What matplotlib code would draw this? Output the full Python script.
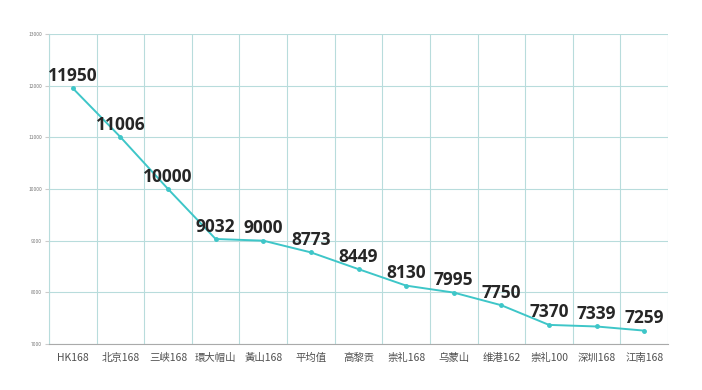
import matplotlib.pyplot as plt
import matplotlib.transforms as mtransforms
import numpy as np

plt.rcParams['font.family'] = ['Noto Sans CJK SC', 'DejaVu Sans']

categorias = ['HK168', '北京168', '三峡168', '環大帽山', '黃山168', '平均值', '高黎贡',
              '崇礼168', '乌蒙山', '维港162', '崇礼100', '深圳168', '江南168']
valores = [11950, 11006, 10000, 9032, 9000, 8773, 8449, 8130, 7995, 7750, 7370, 7339, 7259]
yticks = [7000, 8000, 9000, 10000, 11000, 12000, 13000]

fig = plt.figure(figsize=(7.02, 3.9), dpi=100)
ax = fig.add_axes([49/702, 1-344/390, (668-49)/702, (344-34)/390])

x = np.arange(len(categorias))
ax.plot(x, valores, color='#3ec6c8', lw=1.4, marker='o', ms=2.5, zorder=3)

for xi, v in zip(x, valores):
    ax.annotate(str(v), (xi, v), xytext=(0, 2.5), textcoords='offset points',
                ha='center', va='bottom', fontsize=12.5, fontweight='bold',
                family=['Open Sans', 'DejaVu Sans'], color='#262626')

# etiquetas de categorias con la linea base fija
trans = mtransforms.blended_transform_factory(ax.transData, ax.transAxes)
for xi, c in zip(x, categorias):
    ax.text(xi, 0, c, transform=trans + mtransforms.ScaledTranslation(0, -12/72, fig.dpi_scale_trans),
            ha='center', va='baseline', fontsize=7.5, color='#505050')

ax.set_xlim(-0.5, len(categorias) - 0.5)
ax.set_ylim(7000, 13000)
ax.set_yticks(yticks)
ax.set_yticklabels([str(t) for t in yticks], fontsize=3.5, color='#777777')
ax.set_xticks(np.arange(len(categorias) + 1) - 0.5)
ax.set_xticklabels([])
ax.tick_params(axis='x', length=0)
ax.tick_params(axis='y', length=3, color='#cccccc', pad=2)
ax.grid(True, color='#b8dcdc', lw=0.8)
for s in ['top', 'right']:
    ax.spines[s].set_visible(False)
ax.spines['left'].set_color('#b8dcdc')
ax.spines['bottom'].set_color('#aaaaaa')

fig.savefig('out.png', dpi=100)
